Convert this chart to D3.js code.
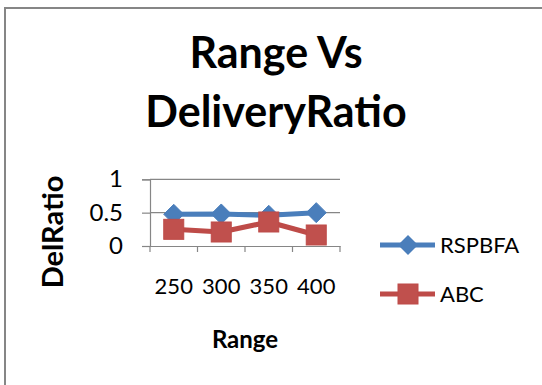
<!DOCTYPE html>
<html>
<head>
<meta charset="utf-8">
<script src="https://cdn.jsdelivr.net/npm/d3@7"></script>
<style>
  html, body { margin: 0; padding: 0; background: #fff; }
  svg { display: block; font-family: Lato, "Open Sans", sans-serif; }
</style>
</head>
<body>
<svg id="chart" width="542" height="385"></svg>
<script>
// Chart data
const categories = ["250", "300", "350", "400"];
const rspbfa = [0.475, 0.48, 0.46, 0.5];
const abc = [0.25, 0.21, 0.36, 0.165];
const yTicks = [0, 0.5, 1];
const seriesNames = ["RSPBFA", "ABC"];

const svg = d3.select("#chart");
const W = 542, H = 385;

// chart frame (only the left and top edges fall inside the view)
svg.append("rect")
  .attr("x", 5).attr("y", 8)
  .attr("width", W + 10).attr("height", H + 10)
  .attr("fill", "#fff").attr("stroke", "#868686").attr("stroke-width", 2);

const plot = { left: 150, right: 340, top: 179.3, bottom: 246 };

const x = d3.scaleBand().domain(categories).range([plot.left, plot.right]);
const y = d3.scaleLinear().domain([0, 1]).range([plot.bottom, plot.top]);

// title
const title = svg.append("text")
  .attr("text-anchor", "middle")
  .attr("font-weight", "bold")
  .attr("font-size", 43)
  .attr("fill", "#000");
title.append("tspan").attr("x", 276).attr("y", 68).text("Range Vs");
title.append("tspan").attr("x", 276).attr("y", 127).text("DeliveryRatio");

// horizontal gridlines
svg.append("g")
  .selectAll("line")
  .data(yTicks.filter(d => d > 0))
  .join("line")
  .attr("x1", plot.left).attr("x2", plot.right)
  .attr("y1", d => y(d)).attr("y2", d => y(d))
  .attr("stroke", "#868686").attr("stroke-width", 1.2);

// y axis
const yAxis = svg.append("g")
  .attr("transform", `translate(${plot.left},0)`)
  .call(d3.axisLeft(y).tickValues(yTicks).tickSize(8).tickPadding(19)
    .tickFormat(d => d === 0 ? "0" : d === 1 ? "1" : String(d)));
yAxis.select(".domain").attr("stroke", "#868686").attr("stroke-width", 1.2);
yAxis.selectAll(".tick line").attr("stroke", "#868686").attr("stroke-width", 1.2);
yAxis.selectAll(".tick text")
  .attr("font-family", "Lato, sans-serif")
  .attr("font-size", 24).attr("fill", "#000");

// x axis
const xAxis = svg.append("g")
  .attr("transform", `translate(0,${plot.bottom})`)
  .call(d3.axisBottom(x).tickSize(0).tickPadding(32));
xAxis.select(".domain").attr("stroke", "#868686").attr("stroke-width", 1.2);
xAxis.selectAll(".tick text")
  .attr("font-family", "Lato, sans-serif")
  .attr("font-size", 22).attr("fill", "#000");

// category boundary tick marks
const bounds = categories.map(c => x(c)).concat([x(categories[categories.length - 1]) + x.bandwidth()]);
svg.append("g")
  .selectAll("line")
  .data(bounds)
  .join("line")
  .attr("x1", d => d).attr("x2", d => d)
  .attr("y1", plot.bottom).attr("y2", plot.bottom + 6)
  .attr("stroke", "#868686").attr("stroke-width", 1.2);

// axis titles
svg.append("text")
  .attr("transform", `translate(63,232) rotate(-90)`)
  .attr("text-anchor", "middle")
  .attr("font-weight", "bold").attr("font-size", 29)
  .text("DelRatio");

svg.append("text")
  .attr("x", (plot.left + plot.right) / 2).attr("y", 348)
  .attr("text-anchor", "middle")
  .attr("font-weight", "bold").attr("font-size", 24)
  .text("Range");

const cx = d => x(d) + x.bandwidth() / 2;
const blue = "#4a7ebb", red = "#be4b48";

// series lines
const line = d3.line().x((d, i) => cx(categories[i])).y(d => y(d));
svg.append("path").datum(rspbfa).attr("d", line)
  .attr("fill", "none").attr("stroke", blue).attr("stroke-width", 5).attr("stroke-linejoin", "round");
svg.append("path").datum(abc).attr("d", line)
  .attr("fill", "none").attr("stroke", red).attr("stroke-width", 5).attr("stroke-linejoin", "round");

// markers
const diamond = s => `M0,${-s}L${s},0L0,${s}L${-s},0Z`;
svg.append("g").selectAll("path")
  .data(rspbfa)
  .join("path")
  .attr("transform", (d, i) => `translate(${cx(categories[i])},${y(d)})`)
  .attr("d", diamond(10))
  .attr("fill", blue).attr("stroke", blue).attr("stroke-width", 1);

svg.append("g").selectAll("rect")
  .data(abc)
  .join("rect")
  .attr("x", (d, i) => cx(categories[i]) - 10)
  .attr("y", d => y(d) - 10)
  .attr("width", 20).attr("height", 20)
  .attr("fill", "#c0504d").attr("stroke", red).attr("stroke-width", 1);

// legend
const legend = svg.append("g");
const legendY = [245, 294];
seriesNames.forEach((name, i) => {
  const g = legend.append("g").attr("transform", `translate(0,${legendY[i]})`);
  g.append("line").attr("x1", 380).attr("x2", 435).attr("y1", 0).attr("y2", 0)
    .attr("stroke", i === 0 ? blue : red).attr("stroke-width", 5);
  if (i === 0) {
    g.append("path").attr("transform", "translate(408,0)").attr("d", diamond(10)).attr("fill", blue);
  } else {
    g.append("rect").attr("x", 398).attr("y", -10).attr("width", 20).attr("height", 20)
      .attr("fill", "#c0504d").attr("stroke", red);
  }
  g.append("text").attr("x", 440).attr("y", 8)
    .attr("font-size", 22).attr("fill", "#000").text(name);
});
</script>
</body>
</html>
